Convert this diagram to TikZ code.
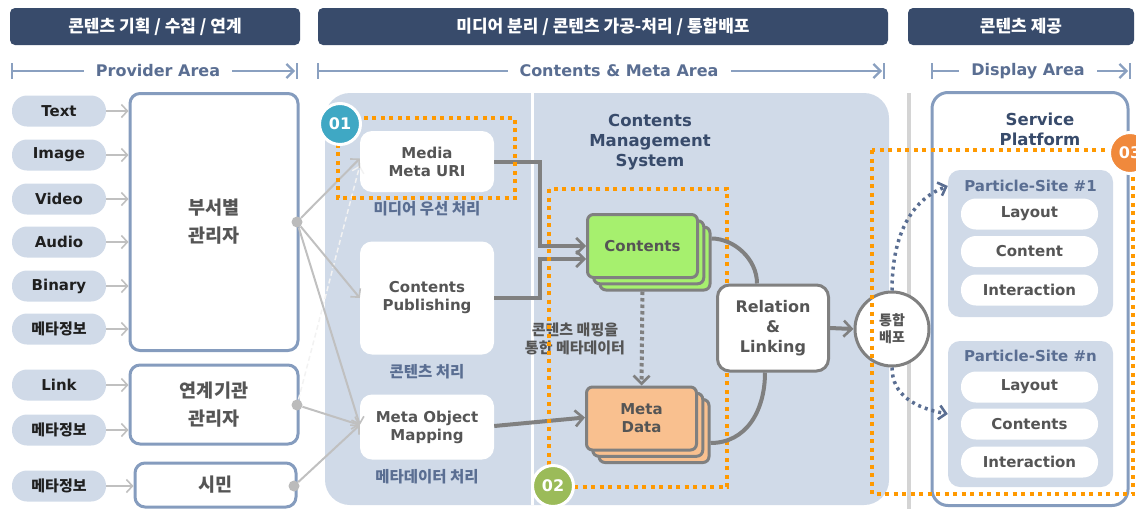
\documentclass[tikz,border=0pt]{standalone}
\usepackage{fontspec}
\setmainfont{DejaVu Sans}
\newfontfamily\kr{Noto Sans CJK KR}
\usetikzlibrary{arrows.meta, positioning, calc}
\definecolor{hdrnavy}{RGB}{56, 75, 107}
\definecolor{rulerblue}{RGB}{138, 160, 192}
\definecolor{areatext}{RGB}{90, 110, 146}
\definecolor{palepanel}{RGB}{208, 218, 232}
\definecolor{boxblue}{RGB}{133, 156, 190}
\definecolor{textgray}{RGB}{85, 85, 85}
\definecolor{feedgray}{RGB}{192, 192, 192}
\definecolor{hubgray}{RGB}{187, 187, 187}
\definecolor{conngray}{RGB}{128, 128, 128}
\definecolor{sepgray}{RGB}{212, 212, 212}
\definecolor{dotorange}{RGB}{255, 153, 0}
\definecolor{badgeteal}{RGB}{63, 168, 196}
\definecolor{badgegreen}{RGB}{155, 187, 89}
\definecolor{badgeorange}{RGB}{240, 137, 60}
\definecolor{cardgreen}{RGB}{166, 240, 110}
\definecolor{cardorange}{RGB}{249, 192, 143}
\tikzset{
  header/.style={rectangle, rounded corners=5pt, fill=hdrnavy, text=white, minimum height=37pt, font=\kr\bfseries\fontsize{17}{19}\selectfont},
  arealabel/.style={fill=white, inner xsep=12pt, inner ysep=2pt, text=areatext, font=\bfseries\fontsize{16}{18}\selectfont},
  ruler/.style={draw=rulerblue, line width=2.5pt},
  rulerarrow/.style={ruler, -{Straight Barb[length=7pt, width=14pt, line width=2.2pt]}},
  srcpill/.style={rectangle, rounded corners=15pt, fill=palepanel, minimum width=94pt, minimum height=31pt, inner sep=0pt, text=black!88, font=\bfseries\fontsize{15}{16}\selectfont},
  mgrbox/.style={rectangle, draw=boxblue, line width=3pt, rounded corners=10pt, fill=white, align=center, text=textgray, font=\kr\bfseries\fontsize{18.5}{28}\selectfont},
  hub/.style={circle, fill=hubgray, minimum size=11pt, inner sep=0pt},
  feed/.style={draw=feedgray, line width=2pt, -{Straight Barb[length=6pt, width=13pt, line width=1.6pt]}},
  feedghost/.style={draw=white!80!feedgray, line width=1.5pt, dash pattern=on 5pt off 3pt, -{Straight Barb[length=6pt, width=12pt, line width=1.4pt]}},
  procbox/.style={rectangle, rounded corners=12pt, fill=white, minimum width=134pt, align=center, text=textgray, font=\bfseries\fontsize{15}{18}\selectfont},
  proclabel/.style={inner sep=0pt, text=areatext, font=\kr\bfseries\fontsize{15.5}{17}\selectfont},
  card/.style={rectangle, draw=conngray, line width=3pt, rounded corners=6pt, minimum width=110pt, minimum height=63pt, align=center, text=textgray, font=\bfseries\fontsize{15}{18}\selectfont},
  conn/.style={draw=conngray, line width=4pt},
  connarrow/.style={conn, -{Straight Barb[length=8pt, width=16pt, line width=2.6pt]}},
  mapflow/.style={draw=conngray, line width=4pt, dash pattern=on 3.5pt off 3pt, -{Straight Barb[length=8pt, width=16pt, line width=2.6pt]}},
  relbox/.style={rectangle, draw=conngray, line width=3pt, rounded corners=12pt, fill=white, minimum width=111pt, minimum height=86pt, align=center, text=textgray, font=\bfseries\fontsize{16}{20}\selectfont},
  distnode/.style={circle, draw=conngray, line width=3pt, fill=white, minimum size=74pt, inner sep=0pt, align=center, text=textgray, font=\kr\bfseries\fontsize{14}{17}\selectfont},
  distflow/.style={draw=areatext, line width=3.5pt, dash pattern=on 3pt off 4pt, -{Straight Barb[length=7pt, width=14pt, line width=2.6pt]}},
  orangedot/.style={draw=dotorange, line width=4pt, dash pattern=on 4pt off 4.5pt},
  badge/.style={circle, draw=white, line width=3pt, minimum size=41pt, inner sep=0pt, text=white, font=\bfseries\fontsize{16}{18}\selectfont},
  platform/.style={rectangle, draw=boxblue, line width=3pt, rounded corners=16pt, fill=white, minimum width=196pt, minimum height=413pt},
  titletext/.style={align=center, text=hdrnavy, font=\bfseries\fontsize{16.5}{20}\selectfont},
  sitepanel/.style={rectangle, rounded corners=12pt, fill=palepanel, minimum width=165pt},
  sitetitle/.style={inner sep=0pt, text=areatext, font=\bfseries\fontsize{15}{16}\selectfont},
  sitepill/.style={rectangle, rounded corners=15pt, fill=white, minimum width=137pt, minimum height=31pt, inner sep=0pt, text=textgray, font=\bfseries\fontsize{15}{16}\selectfont}
}
\begin{document}
\begin{tikzpicture}[x=1pt, y=-1pt]
    \useasboundingbox (0,0) rectangle (1136,509);
    % Headers
    \node[header, minimum width=290pt] (hdrprov) at (155,26.5) {콘텐츠 기획 / 수집 / 연계};
    \node[header, minimum width=570pt] (hdrcms) at (603,26.5) {미디어 분리 / 콘텐츠 가공-처리 / 통합배포};
    \node[header, minimum width=226pt] (hdrdisp) at (1021,26.5) {콘텐츠 제공};

    % Area rulers
    \draw[ruler] (12,63) -- (12,79) (297,63) -- (297,79);
    \draw[rulerarrow] (12,71) -- (295,71);
    \node[arealabel] (areaprov) at (158,71) {Provider Area};
    \draw[ruler] (318,63) -- (318,79) (884,63) -- (884,79);
    \draw[rulerarrow] (318,71) -- (882,71);
    \node[arealabel] (areacms) at (619,71) {Contents \& Meta Area};
    \draw[ruler] (932,63) -- (932,79) (1130,63) -- (1130,79);
    \draw[rulerarrow] (932,71) -- (1128,71);
    \node[arealabel] (areadisp) at (1028,71) {Display Area};

    % Provider sources
    \foreach \name/\txt/\y in {src1/Text/111, src2/Image/155, src3/Video/199, src4/Audio/242, src5/Binary/286, src6/{\kr 메타정보}/329, src7/Link/385, src8/{\kr 메타정보}/430, src9/{\kr 메타정보}/486}
        \node[srcpill] (\name) at (59,\y) {\txt};
    \node[mgrbox, minimum width=168pt, minimum height=257pt] (mgrdept) at (214,222) {부서별\\관리자};
    \node[mgrbox, minimum width=168pt, minimum height=79pt] (mgrorg) at (214,404.5) {연계기관\\관리자};
    \node[mgrbox, minimum width=161pt, minimum height=44pt] (mgrcit) at (215.5,485) {시민};
    \foreach \s in {src1, src2, src3, src4, src5, src6}
        \draw[feed] (\s.east) -- (\s.east -| mgrdept.west);
    \foreach \s in {src7, src8}
        \draw[feed] (\s.east) -- (\s.east -| mgrorg.west);
    \draw[feed] (src9.east) -- (src9.east -| mgrcit.west);

    % Contents & Meta panel
    \fill[palepanel, rounded corners=25pt] (325,93) rectangle (889,505);
    \draw[white, line width=3pt] (532,93) -- (532,505);
    \draw[sepgray, line width=4pt] (909,93) -- (909,509);

    \node[procbox, minimum height=61pt] (media) at (427,161.5) {Media\\Meta URI};
    \node[procbox, minimum height=113pt] (pub) at (427,298) {Contents\\Publishing};
    \node[procbox, minimum height=65pt] (mop) at (427,427) {Meta Object\\Mapping};
    \node[proclabel, below=9pt of media] (medialbl) {미디어 우선 처리};
    \node[proclabel, below=9pt of pub] (publbl) {콘텐츠 처리};
    \node[proclabel, below=9pt of mop] (moplbl) {메타데이터 처리};

    % Hubs and feeds into processing
    \node[hub] (hubdept) at (297,222) {};
    \node[hub] (huborg) at (297,405) {};
    \node[hub] (hubcit) at (294,486) {};
    \draw[feedghost] (huborg) -- ([yshift=-4pt]media.west);
    \draw[feed] (hubdept) -- ([yshift=3pt]media.west);
    \draw[feed] (hubdept) -- (pub.west);
    \draw[feed] (hubdept) -- ([yshift=2pt]mop.west);
    \draw[feed] (huborg) -- ([yshift=2pt]mop.west);
    \draw[feed] (hubcit) -- ([yshift=2pt]mop.west);

    % CMS
    \node[titletext] (cmstitle) at (650,142) {Contents\\Management\\System};
    \node[card, fill=cardgreen] (ctC) at (655,258.5) {};
    \node[card, fill=cardgreen] (ctB) at (648.75,252.25) {};
    \node[card, fill=cardgreen] (ctA) at (642.5,246) {Contents};
    \node[card, fill=cardorange] (mdC) at (654,431) {};
    \node[card, fill=cardorange] (mdB) at (647.75,424.75) {};
    \node[card, fill=cardorange] (mdA) at (641.5,418.5) {Meta\\Data};
    \draw[connarrow] (media.east) -- ++(46,0) |- (ctA.west);
    \draw[connarrow] (pub.east) -- ++(46,0) |- ([yshift=-13pt]ctA.west);
    \draw[connarrow] ([yshift=1pt]mop.east) -- ([yshift=1pt]mdA.west);
    \draw[mapflow] (ctA.south |- ctC.south) -- (mdA.north);
    \node[align=center, text=textgray, font=\kr\bfseries\fontsize{15}{18}\selectfont] (maplbl) at (575,339) {콘텐츠 매핑을\\통한 메타데이터};

    % Processing groups
    \draw[orangedot] (338,118) rectangle (515,198);
    \draw[orangedot] (549,189) rectangle (727,487);

    % Relation & distribution
    \node[relbox] (rel) at (773,328) {Relation\\\&\\Linking};
    \draw[conn] ([yshift=20pt]ctC.east) .. controls +(22,0) and +(0,-25) .. ([xshift=-16pt]rel.north);
    \draw[conn] ([yshift=-12pt]mdC.east) .. controls +(36,0) and +(0,38) .. ([xshift=-8pt]rel.south);
    \node[distnode] (dist) at (892,329) {통합\\배포};
    \draw[connarrow] (rel.east) -- (dist.west);

    % Service platform
    \node[platform] (svc) at (1030,299) {};
    \node[titletext] (svctitle) at (1040,129) {Service\\Platform};
    \node[sitepanel, minimum height=147pt] (site1) at (1030.5,243.5) {};
    \node[sitepanel, minimum height=146pt] (siten) at (1030.5,414) {};
    \node[sitetitle] (site1t) at (1030.5,186) {Particle-Site \#1};
    \node[sitetitle] (sitent) at (1030.5,356) {Particle-Site \#n};
    \node[sitepill] (s1lay) at (1029.5,214) {Layout};
    \node[sitepill] (s1con) at (1029.5,251.5) {Content};
    \node[sitepill] (s1int) at (1029.5,290) {Interaction};
    \node[sitepill] (snlay) at (1029.5,387) {Layout};
    \node[sitepill] (sncon) at (1029.5,424) {Contents};
    \node[sitepill] (snint) at (1029.5,462) {Interaction};

    \draw[orangedot] (872,150) rectangle (1133,494);
    \draw[distflow] (dist.north) .. controls +(0,-62) and +(-32,12) .. (site1.west |- site1t);
    \draw[distflow] (dist.south) .. controls +(0,28) and +(-32,-6) .. (siten.west);

    % Badges
    \node[badge, fill=badgeteal] (badge1) at (340,124) {01};
    \node[badge, fill=badgegreen] (badge2) at (553,486) {02};
    \node[badge, fill=badgeorange] (badge3) at (1130,153) {03};
\end{tikzpicture}
\end{document}
